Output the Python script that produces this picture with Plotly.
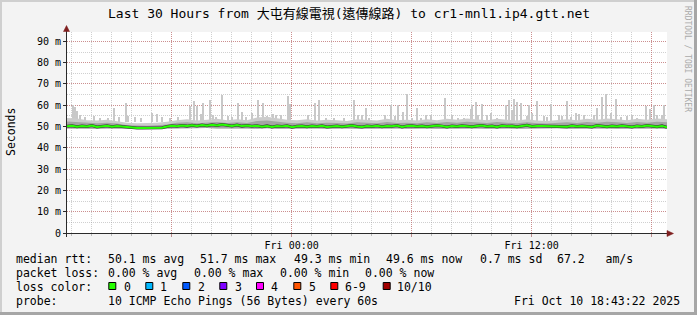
import plotly.graph_objects as go
import pandas as pd

W, H = 697, 315
ML, MR, MT, MB = 67, 30, 32, 82
PW = W - ML - MR
PH = H - MT - MB

# ---------------- data ----------------
start = pd.Timestamp("2025-10-09 12:46:00")
end = pd.Timestamp("2025-10-10 18:46:00")

# median rtt (ms), every 15 minutes
median_ms = [
    50.1, 50.4, 49.9, 50.3, 50.0, 50.5, 49.8, 50.2, 50.4, 49.9, 50.3, 50.0, 49.7,
    49.3, 49.3, 49.3, 49.3, 49.3, 49.3, 49.4,
    50.0, 50.4, 50.1, 50.5, 50.2, 50.6, 50.3,
    50.7, 50.4, 50.8, 50.5, 50.9, 50.6, 50.3, 50.7, 50.2, 50.5, 50.1, 50.4,
    49.9, 50.3, 49.8, 50.2, 50.0, 50.4, 49.7, 50.1, 50.3, 49.9, 50.2, 50.0, 50.4,
    49.8, 50.1, 50.3, 49.9, 50.2, 50.5, 50.0, 49.8, 50.2,
    50.0, 50.4, 49.9, 50.3, 50.1, 50.5, 49.8, 50.2, 50.4, 50.0, 50.3, 49.9, 50.1,
    50.5, 50.2, 49.8, 50.3, 50.0, 50.4, 50.1, 49.9, 50.3, 50.5, 50.0, 50.2, 49.8,
    50.4, 50.1, 50.3, 49.9, 50.2, 50.6, 50.0, 50.3,
    50.2, 50.2, 50.2, 50.2, 50.2,
    49.9, 50.4, 50.0, 50.3, 50.1, 49.8, 50.5, 50.2, 49.9, 50.3, 50.0, 50.4, 50.1,
    49.8, 50.3, 50.0, 50.5, 50.2, 49.9, 50.3, 49.6,
]

# smoke envelope (ms), every 30 minutes
smoke_lo = [
    49.1, 49.0, 49.2, 49.0, 49.1, 49.0, 48.9, 48.9, 48.9, 49.0, 49.1, 49.2, 49.3,
    49.2, 49.3, 49.1, 49.2, 49.0, 49.1, 49.0, 49.2, 49.0, 49.1, 49.2, 49.0, 49.1,
    49.0, 49.2, 49.1, 49.0, 49.1, 49.2, 49.0, 49.1, 49.0, 49.2, 49.1, 49.0, 49.1,
    49.2, 49.0, 49.1, 49.0, 49.2, 49.1, 49.0, 49.1, 49.2, 49.1, 49.2, 49.0, 49.1,
    49.0, 49.2, 49.1, 49.0, 49.1, 49.2, 49.0, 49.1, 49.0,
]
smoke_hi = [
    52.4, 52.2, 51.7, 51.5, 51.8, 51.4, 50.6, 50.4, 50.4, 50.6, 51.0, 51.8, 52.0,
    51.6, 51.9, 52.1, 51.7, 52.0, 51.7, 52.6, 52.8, 52.2, 51.8, 51.6, 52.0, 51.5,
    51.8, 51.7, 51.4, 52.0, 51.7, 51.5, 52.1, 51.7, 51.8, 51.5, 52.0, 51.7, 52.1,
    51.8, 52.3, 52.0, 51.7, 52.1, 51.8, 51.5, 52.0, 51.5, 51.4, 51.7, 52.0, 51.7,
    52.1, 51.8, 52.2, 52.0, 51.7, 52.1, 51.8, 52.2, 52.0,
]
smoke_max = [
    54.0, 53.8, 53.0, 52.8, 53.2, 52.6, 51.8, 51.6, 51.6, 51.8, 52.2, 53.0, 53.4,
    52.8, 53.2, 53.6, 53.0, 53.4, 53.0, 54.2, 54.6, 53.8, 53.2, 53.0, 53.4, 52.8,
    53.2, 53.0, 52.6, 53.4, 53.0, 52.8, 53.6, 53.0, 53.2, 52.8, 53.4, 53.0, 53.6,
    53.2, 53.8, 53.4, 53.0, 53.6, 53.2, 52.8, 53.4, 52.8, 52.6, 53.0, 53.4, 53.0,
    53.6, 53.2, 53.8, 53.4, 53.0, 53.6, 53.2, 53.8, 53.4,
]

# isolated high pings: minutes after start, top value (ms)
spike_minutes = [
    19, 25, 31, 38, 54, 81, 99, 123, 142, 156, 176, 183, 203, 222, 254, 270, 284,
    309, 333, 368, 382, 391, 402, 409, 428, 437, 446, 466, 484, 496, 514, 526, 536,
    554, 573, 589, 601, 619, 626, 641, 663, 668, 723, 744, 756, 776, 801, 831, 861,
    872, 886, 896, 906, 954, 971, 983, 994, 1009, 1021, 1036, 1051, 1061, 1076,
    1091, 1134, 1156, 1174, 1191, 1211, 1216, 1227, 1234, 1244, 1259, 1271, 1289,
    1316, 1326, 1336, 1342, 1351, 1361, 1381, 1387, 1396, 1409, 1431, 1441, 1453,
    1476, 1486, 1499, 1511, 1526, 1536, 1551, 1581, 1590, 1606, 1616, 1631, 1646,
    1661, 1681, 1696, 1711, 1736, 1748, 1761, 1771, 1786, 1792,
]
spike_top_ms = [
    60.0, 59.0, 57.5, 55.5, 54.5, 55.0, 54.0, 54.0, 58.9, 54.5, 61.2, 55.0, 54.6,
    54.0, 56.2, 56.0, 54.7, 54.2, 54.5, 59.5, 62.0, 59.5, 55.7, 61.0, 62.3, 55.5,
    54.3, 65.0, 55.0, 54.5, 61.0, 57.0, 54.5, 56.5, 62.5, 61.0, 55.0, 56.0, 55.3,
    55.3, 64.3, 60.5, 55.5, 61.0, 62.3, 54.0, 54.2, 54.0, 62.3, 55.5, 55.5, 58.6,
    54.2, 55.5, 60.1, 55.0, 60.0, 57.0, 65.3, 54.2, 58.6, 54.2, 55.5, 55.5, 63.5,
    55.5, 54.2, 53.8, 58.3, 60.0, 61.5, 55.5, 60.6, 55.5, 56.5, 54.0, 60.0, 62.5,
    58.0, 63.0, 61.5, 60.9, 55.0, 60.0, 56.5, 62.0, 55.0, 54.3, 60.5, 55.5, 55.0,
    62.0, 54.3, 56.5, 56.0, 55.5, 55.5, 58.7, 64.0, 65.3, 56.5, 63.0, 54.3, 55.0,
    55.5, 53.8, 59.5, 58.3, 60.0, 55.5, 55.5, 60.0,
]
spike_base_ms = 52.0

y_tick_vals = [0, 10, 20, 30, 40, 50, 60, 70, 80, 90]
y_tick_text = ["0", "10 m", "20 m", "30 m", "40 m", "50 m", "60 m", "70 m", "80 m", "90 m"]
x_major_ticks = ["2025-10-09 18:00", "2025-10-10 00:00", "2025-10-10 06:00",
                 "2025-10-10 12:00", "2025-10-10 18:00"]
x_major_text = ["", "Fri 00:00", "", "Fri 12:00", ""]

title_text = "Last 30 Hours from 大屯有線電視(遠傳線路) to cr1-mnl1.ip4.gtt.net"
rtt_stats = ["50.1 ms avg", "51.7 ms max", "49.3 ms min", "49.6 ms now", "0.7 ms sd", "67.2   am/s"]
loss_stats = ["0.00 % avg", "0.00 % max", "0.00 % min", "0.00 % now"]
loss_labels = ["0", "1", "2", "3", "4", "5", "6-9", "10/10"]
loss_colors = ["#26ff00", "#00b8ff", "#0059ff", "#7e00ff", "#ff00ff", "#ff5500", "#ff0000", "#a10000"]
probe_text = "10 ICMP Echo Pings (56 Bytes) every 60s"
stamp_text = "Fri Oct 10 18:43:22 2025"

# ---------------- figure ----------------
t_med = pd.date_range(start, end, periods=len(median_ms))
t_smoke = pd.date_range(start, end, periods=len(smoke_max))
t_spike = [start + pd.Timedelta(minutes=m) for m in spike_minutes]

MONO = "DejaVu Sans Mono, Noto Sans CJK TC"

fig = go.Figure()
fig.add_trace(go.Bar(x=t_spike, y=[v - spike_base_ms for v in spike_top_ms], base=spike_base_ms,
                     width=170000, marker=dict(color="#c8c8c8", line=dict(width=0)), hoverinfo="skip"))
fig.add_trace(go.Scatter(x=t_smoke, y=smoke_lo, mode="lines", line=dict(width=0), hoverinfo="skip"))
fig.add_trace(go.Scatter(x=t_smoke, y=smoke_max, mode="lines", line=dict(width=0), fill="tonexty",
                         fillcolor="#cccccc", hoverinfo="skip"))
fig.add_trace(go.Scatter(x=t_smoke, y=smoke_lo, mode="lines", line=dict(width=0), hoverinfo="skip"))
fig.add_trace(go.Scatter(x=t_smoke, y=smoke_hi, mode="lines", line=dict(width=0), fill="tonexty",
                         fillcolor="#a4a4a4", hoverinfo="skip"))
fig.add_trace(go.Scatter(x=t_med, y=median_ms, mode="lines", line=dict(width=3, color="#3a3a3a"),
                         hoverinfo="skip"))
fig.add_trace(go.Scatter(x=t_med, y=median_ms, mode="lines", line=dict(width=2, color="#26ff00"),
                         hoverinfo="skip"))


def px(x):
    return (x - ML) / PW


def py(y):
    return (H - MB - y) / PH


ann = []


def txt(x, y, s, anchor="left", size=11.5, color="black", angle=0, yanchor="middle"):
    ann.append(dict(x=px(x), y=py(y), xref="paper", yref="paper", text=s, showarrow=False,
                    xanchor=anchor, yanchor=yanchor, textangle=angle,
                    font=dict(family=MONO, size=size, color=color), borderpad=0))


txt(348.5, 14, title_text, anchor="center", size=13)
txt(11, 132, "Seconds", anchor="center", size=11.5, angle=-90)
txt(688, 59, "RRDTOOL / TOBI OETIKER", anchor="center", size=8, color="#aaaaaa", angle=90)

y1, y2, y3, y4 = 259, 273, 287, 301
txt(15, y1, "median rtt:")
for xx, s in zip([106.5, 199.3, 292.6, 385.3, 478.6, 556], rtt_stats):
    txt(xx, y1, s)
txt(15, y2, "packet loss:")
for xx, s in zip([106.5, 192.6, 278.6, 364.3], loss_stats):
    txt(xx, y2, s)
txt(15, y3, "loss color:")
box_x = [108.3, 145.3, 182.3, 219.3, 256, 293.3, 330.3, 382.7]
lab_x = [122.6, 159.3, 196.6, 233.6, 270.3, 307.6, 344.3, 396]
shapes = []
for bx, lx, lab, col in zip(box_x, lab_x, loss_labels, loss_colors):
    shapes.append(dict(type="rect", xref="paper", yref="paper", x0=px(bx + 0.5), x1=px(bx + 7.5),
                       y0=py(282.5), y1=py(289.5), fillcolor=col, line=dict(color="black", width=1)))
    txt(lx, y3, lab)
txt(15, y4, "probe:")
txt(106.5, y4, probe_text)
txt(681, y4, stamp_text, anchor="right")

AX = "#2a2a2a"
ARROW = "#7f1f1f"
# x axis line and arrow
shapes.append(dict(type="line", xref="paper", yref="paper", x0=px(63), x1=px(668), y0=py(233.5), y1=py(233.5),
                   line=dict(color=AX, width=1)))
shapes.append(dict(type="path", xref="paper", yref="paper",
                   path=f"M {px(667)} {py(230.5)} L {px(673.5)} {py(233.5)} L {px(667)} {py(236.5)} Z",
                   fillcolor=ARROW, line=dict(color=ARROW, width=0.5)))
# y axis line and arrow
shapes.append(dict(type="line", xref="paper", yref="paper", x0=px(66.5), x1=px(66.5), y0=py(237), y1=py(31),
                   line=dict(color=AX, width=1)))
shapes.append(dict(type="path", xref="paper", yref="paper",
                   path=f"M {px(63.5)} {py(31.5)} L {px(66.5)} {py(25.5)} L {px(69.5)} {py(31.5)} Z",
                   fillcolor=ARROW, line=dict(color=ARROW, width=0.5)))
# 3D frame
shapes.append(dict(type="rect", xref="paper", yref="paper", x0=px(0), x1=px(697), y0=py(0), y1=py(2),
                   fillcolor="#cfcfcf", line=dict(width=0), layer="below"))
shapes.append(dict(type="rect", xref="paper", yref="paper", x0=px(0), x1=px(2), y0=py(0), y1=py(315),
                   fillcolor="#cfcfcf", line=dict(width=0), layer="below"))
shapes.append(dict(type="rect", xref="paper", yref="paper", x0=px(0), x1=px(697), y0=py(312), y1=py(315),
                   fillcolor="#a6a6a6", line=dict(width=0)))
shapes.append(dict(type="rect", xref="paper", yref="paper", x0=px(694), x1=px(697), y0=py(0), y1=py(315),
                   fillcolor="#a6a6a6", line=dict(width=0)))

MAJ = "rgba(200,90,90,0.55)"
MIN = "rgba(150,150,150,0.45)"

fig.update_layout(
    width=W, height=H,
    margin=dict(l=ML, r=MR, t=MT, b=MB, pad=0),
    paper_bgcolor="#f3f3f3", plot_bgcolor="white",
    showlegend=False, barmode="overlay", bargap=0,
    annotations=ann, shapes=shapes,
    xaxis=dict(type="date", range=[start, end], showline=False, zeroline=False,
               tickmode="array", tickvals=x_major_ticks, ticktext=x_major_text,
               showgrid=True, gridcolor=MAJ, griddash="1px,1px", gridwidth=1,
               ticks="outside", ticklen=3, tickcolor="#c09090", tickwidth=1,
               tickfont=dict(family=MONO, size=10, color="black"),
               minor=dict(dtick=3600000, tick0="2025-10-09 13:00", showgrid=True, gridcolor=MIN,
                          griddash="1px,1px", gridwidth=1, ticks="outside", ticklen=2, tickcolor="#bbbbbb"),
               fixedrange=True),
    yaxis=dict(range=[0, 94.4], showline=False, zeroline=False,
               tickmode="array", tickvals=y_tick_vals, ticktext=y_tick_text,
               showgrid=True, gridcolor=MAJ, griddash="1px,1px", gridwidth=1,
               ticks="outside", ticklen=3, tickcolor=AX, tickwidth=1,
               tickfont=dict(family=MONO, size=10, color="black"),
               minor=dict(dtick=5, tick0=0, showgrid=True, gridcolor=MIN, griddash="1px,1px", gridwidth=1),
               fixedrange=True),
)

fig.write_html("out.html", config={"displayModeBar": False})
